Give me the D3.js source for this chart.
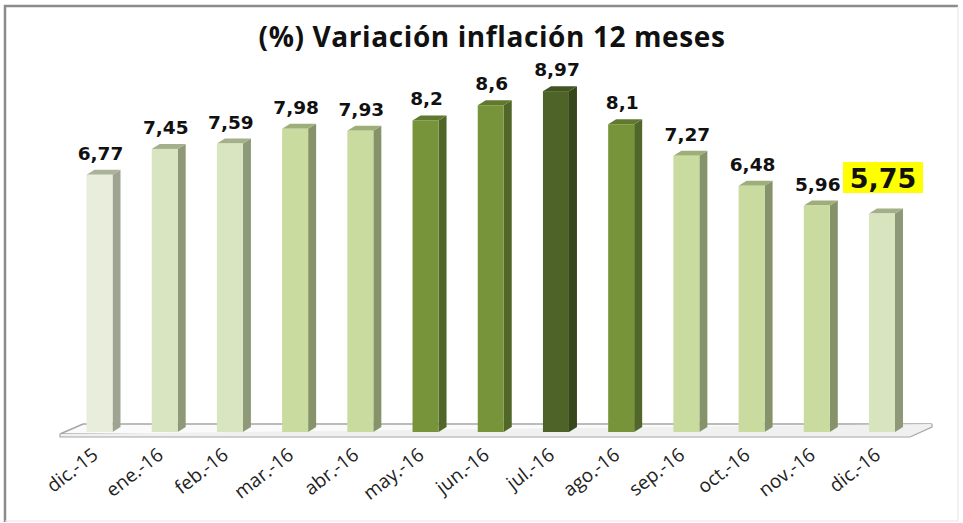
<!DOCTYPE html>
<html>
<head>
<meta charset="utf-8">
<script src="https://cdn.jsdelivr.net/npm/d3@7"></script>
<style>
  html, body { margin: 0; padding: 0; background: #fff; }
  svg { display: block; }
</style>
</head>
<body>
<svg id="chart" width="963" height="523"></svg>
<script>
// datos
const meses = ["dic.-15", "ene.-16", "feb.-16", "mar.-16", "abr.-16", "may.-16", "jun.-16",
               "jul.-16", "ago.-16", "sep.-16", "oct.-16", "nov.-16", "dic.-16"];
const valores = [6.77, 7.45, 7.59, 7.98, 7.93, 8.2, 8.6, 8.97, 8.1, 7.27, 6.48, 5.96, 5.75];
const etiquetas = ["6,77", "7,45", "7,59", "7,98", "7,93", "8,2", "8,6", "8,97", "8,1", "7,27", "6,48", "5,96", "5,75"];
const grupo = [0, 1, 1, 2, 2, 3, 3, 4, 3, 2, 2, 2, 5];

// colores por grupo: frente, lado, tapa
const frente = ["#e9eddc", "#d9e4c0", "#cadb9f", "#78943b", "#4e6328", "#d8e4bd"];
const lado   = ["#9ea491", "#8e9979", "#86936a", "#51672a", "#37461b", "#8d9878"];
const tapa   = ["#aab39a", "#a4b08a", "#9eae78", "#5f7a2e", "#415422", "#a3af87"];

const svg = d3.select("#chart");

// marco
svg.append("path")
    .attr("d", "M5,522 L5,6 L958,6")
    .attr("fill", "none").attr("stroke", "#8c8c8c").attr("stroke-width", 2.5);
svg.append("path")
    .attr("d", "M958,6 L958,521 L5,521")
    .attr("fill", "none").attr("stroke", "#e4e4e4").attr("stroke-width", 1);

// titulo
svg.append("text")
    .attr("x", 492).attr("y", 47)
    .attr("text-anchor", "middle")
    .style("font-family", "'Open Sans', sans-serif")
    .style("font-weight", "bold")
    .style("font-size", "28px")
    .style("letter-spacing", "0.6px")
    .attr("fill", "#111")
    .text("(%) Variación inflación 12 meses");

const x = d3.scalePoint().domain(meses).range([99.5, 882]);
const y = d3.scaleLinear().domain([0, 9]).range([432, 90]);

const w = 26, dx = 8, dy = 5;

// piso
const piso = svg.append("g");
piso.append("path")
    .attr("d", "M60,434 L83,424 L932,424 L910,434 Z")
    .attr("fill", "#fafafa").attr("stroke", "#a6a6a6").attr("stroke-width", 1.5);
piso.append("path")
    .attr("d", "M60,434 L60,437 L910,437 L932,427 L932,424")
    .attr("fill", "#f0f0f0").attr("stroke", "#a6a6a6").attr("stroke-width", 1.2);

// barras
const barras = svg.append("g").selectAll("g")
    .data(meses.map((m, i) => ({ m, v: valores[i], g: grupo[i], t: etiquetas[i] })))
    .join("g");

barras.append("path")
    .attr("d", d => {
        const x0 = x(d.m) - w / 2, x1 = x0 + w, yt = y(d.v), yb = y(0);
        return `M${x1},${yt} L${x1 + dx},${yt - dy} L${x1 + dx},${yb - dy} L${x1},${yb} Z`;
    })
    .attr("fill", d => lado[d.g]);

barras.append("path")
    .attr("d", d => {
        const x0 = x(d.m) - w / 2, x1 = x0 + w, yt = y(d.v);
        return `M${x0},${yt} L${x0 + dx},${yt - dy} L${x1 + dx},${yt - dy} L${x1},${yt} Z`;
    })
    .attr("fill", d => tapa[d.g]);

barras.append("rect")
    .attr("x", d => x(d.m) - w / 2)
    .attr("y", d => y(d.v))
    .attr("width", w)
    .attr("height", d => y(0) - y(d.v))
    .attr("fill", d => frente[d.g]);

// etiquetas de valor
const ultimo = meses.length - 1;
barras.filter((d, i) => i !== ultimo).append("text")
    .attr("x", d => x(d.m) + 1)
    .attr("y", d => y(d.v) - 15)
    .attr("text-anchor", "middle")
    .style("font-family", "'DejaVu Sans', Verdana, sans-serif")
    .style("font-weight", "bold")
    .style("font-size", "18.5px")
    .attr("fill", "#111")
    .text(d => d.t);

// destacado ultimo valor
const dUlt = { m: meses[ultimo], t: etiquetas[ultimo] };
svg.append("rect")
    .attr("x", x(dUlt.m) - 39).attr("y", 162)
    .attr("width", 80).attr("height", 31)
    .attr("fill", "#ffff00");
svg.append("text")
    .attr("x", x(dUlt.m) + 1).attr("y", 188)
    .attr("text-anchor", "middle")
    .style("font-family", "'DejaVu Sans', Verdana, sans-serif")
    .style("font-weight", "bold")
    .style("font-size", "27px")
    .attr("fill", "#111")
    .text(dUlt.t);

// eje x
svg.append("g").selectAll("text")
    .data(meses)
    .join("text")
    .attr("transform", m => `translate(${x(m) - 9},446) rotate(-38)`)
    .attr("text-anchor", "end")
    .attr("dy", "0.75em")
    .style("font-family", "'Open Sans', sans-serif")
    .style("font-size", "19px")
    .attr("fill", "#222")
    .text(m => m);
</script>
</body>
</html>
